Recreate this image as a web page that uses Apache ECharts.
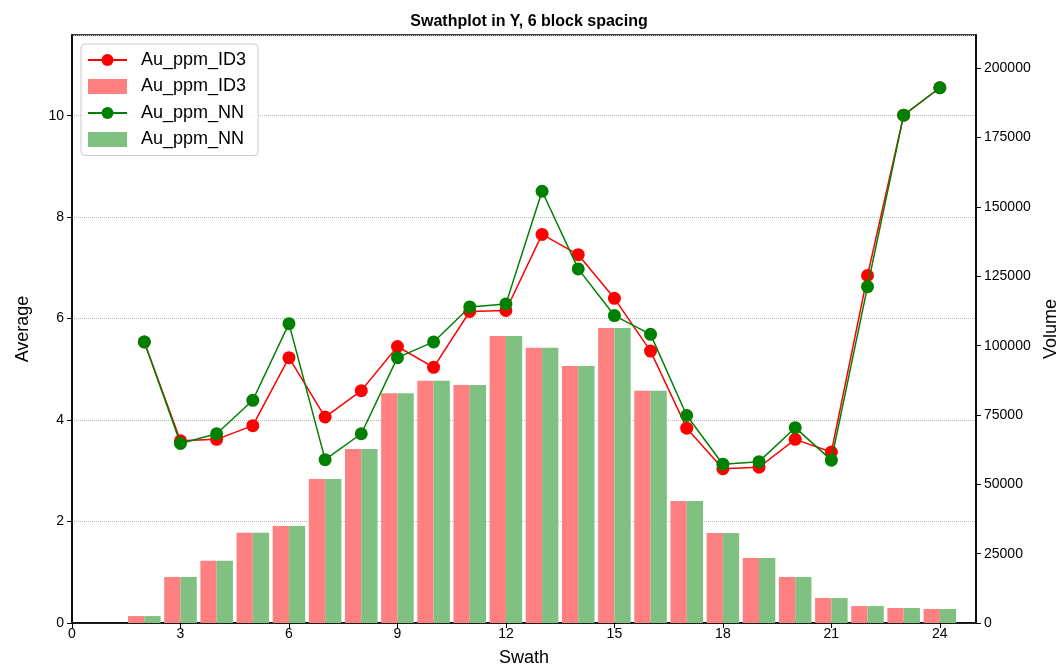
<!DOCTYPE html>
<html>
<head>
<meta charset="utf-8">
<title>Swathplot</title>
<script src="https://cdn.jsdelivr.net/npm/echarts@6/dist/echarts.min.js"></script>
<style>
  html, body { margin: 0; padding: 0; background: #fff; }
  #main { width: 1062px; height: 671px; }
</style>
</head>
<body>
<div id="main"></div>
<script>
// swath numbers on the x axis
var swath = [2, 3, 4, 5, 6, 7, 8, 9, 10, 11, 12, 13, 14, 15, 16, 17, 18, 19, 20, 21, 22, 23, 24];
// average grade per swath
var id3Avg = [5.54, 3.59, 3.62, 3.89, 5.23, 4.06, 4.58, 5.45, 5.04, 6.14, 6.16, 7.66, 7.26, 6.40, 5.36, 3.84, 3.04, 3.07, 3.62, 3.37, 6.85, 10.01, 10.55];
var nnAvg = [5.54, 3.54, 3.73, 4.39, 5.90, 3.22, 3.73, 5.23, 5.54, 6.23, 6.29, 8.51, 6.98, 6.06, 5.69, 4.09, 3.13, 3.18, 3.85, 3.21, 6.63, 10.01, 10.55];
// volume per swath (same for both estimates)
var id3Vol = [2500, 16600, 22400, 32500, 35000, 51900, 62700, 82800, 87300, 85800, 103500, 99200, 92700, 106400, 83700, 44000, 32450, 23400, 16600, 9000, 6100, 5400, 5050];
var nnVol = [2500, 16600, 22400, 32500, 35000, 51900, 62700, 82800, 87300, 85800, 103500, 99200, 92700, 106400, 83700, 44000, 32450, 23400, 16600, 9000, 6100, 5400, 5050];
var leftTicks = [0, 2, 4, 6, 8, 10];
var rightTicks = [0, 25000, 50000, 75000, 100000, 125000, 150000, 175000, 200000];

function pairs(xs, ys) {
  return xs.map(function (x, i) { return [x, ys[i]]; });
}

var FONT = '"Liberation Sans", Arial, sans-serif';
// bars need another name than the lines or the legend merges them
var ZW = '\u200b';

var myChart = echarts.init(document.getElementById('main'));

myChart.setOption({
  backgroundColor: '#fff',
  animation: false,
  textStyle: { fontFamily: FONT },
  title: {
    text: 'Swathplot in Y, 6 block spacing',
    left: 524,
    top: 9,
    textAlign: 'center',
    textStyle: { fontSize: 16, fontWeight: 'bold', color: '#000', fontFamily: FONT }
  },
  grid: {
    left: 72, right: 86, top: 35, bottom: 48,
    containLabel: false,
    outerBoundsMode: 'none',
    show: true,
    borderColor: '#000',
    borderWidth: 1.5,
    backgroundColor: 'transparent'
  },
  legend: {
    orient: 'vertical',
    left: 81,
    top: 44,
    padding: [7, 12, 7, 6],
    itemGap: 8.5,
    itemWidth: 39,
    itemHeight: 15,
    backgroundColor: 'rgba(255,255,255,0.8)',
    borderColor: '#cccccc',
    borderWidth: 1,
    borderRadius: 4,
    formatter: function (name) { return name.replace(ZW, ''); },
    textStyle: { fontSize: 18, color: '#000', fontFamily: FONT, padding: [0, 0, 0, 9] },
    data: [
      { name: 'Au_ppm_ID3' },
      { name: 'Au_ppm_ID3' + ZW, icon: 'rect' },
      { name: 'Au_ppm_NN' },
      { name: 'Au_ppm_NN' + ZW, icon: 'rect' }
    ]
  },
  xAxis: {
    type: 'value',
    min: 0,
    max: 25,
    interval: 3,
    name: 'Swath',
    nameLocation: 'middle',
    nameGap: 26,
    nameTextStyle: { fontSize: 18, color: '#000' },
    axisLine: { lineStyle: { color: '#000', width: 1.5 } },
    axisTick: { length: 5, lineStyle: { color: '#000' } },
    axisLabel: { fontSize: 14, color: '#000', margin: 4, showMaxLabel: false },
    splitLine: { show: false }
  },
  yAxis: [
    {
      type: 'value',
      min: leftTicks[0],
      max: 11.59,
      interval: leftTicks[1] - leftTicks[0],
      name: 'Average',
      nameLocation: 'middle',
      nameGap: 40,
      nameTextStyle: { fontSize: 18, color: '#000' },
      axisLine: { show: true, lineStyle: { color: '#000', width: 1.5 } },
      axisTick: { show: true, length: 5, lineStyle: { color: '#000' } },
      axisLabel: { fontSize: 14, color: '#000', margin: 8, showMaxLabel: false },
      splitLine: { show: true, lineStyle: { color: '#b8b8b8', type: 'dotted', width: 1 } }
    },
    {
      type: 'value',
      position: 'right',
      min: rightTicks[0],
      max: 212000,
      interval: rightTicks[1] - rightTicks[0],
      name: 'Volume',
      nameLocation: 'middle',
      nameGap: 63,
      nameRotate: 90,
      nameTextStyle: { fontSize: 18, color: '#000' },
      axisLine: { show: true, lineStyle: { color: '#000', width: 1.5 } },
      axisTick: { show: true, length: 5, lineStyle: { color: '#000' } },
      axisLabel: {
        fontSize: 14, color: '#000', margin: 8, showMaxLabel: false,
        formatter: function (v) { return String(v); }
      },
      splitLine: { show: false }
    }
  ],
  series: [
    {
      name: 'Au_ppm_ID3' + ZW,
      type: 'bar',
      yAxisIndex: 1,
      barWidth: '45%',
      barGap: '0%',
      itemStyle: { color: '#ff8080' },
      z: 1,
      data: pairs(swath, id3Vol)
    },
    {
      name: 'Au_ppm_NN' + ZW,
      type: 'bar',
      yAxisIndex: 1,
      barWidth: '45%',
      barGap: '0%',
      itemStyle: { color: '#80c080' },
      z: 1,
      data: pairs(swath, nnVol)
    },
    {
      name: 'Au_ppm_ID3',
      type: 'line',
      yAxisIndex: 0,
      symbol: 'circle',
      symbolSize: 13,
      lineStyle: { color: '#ff0000', width: 1.5 },
      itemStyle: { color: '#ff0000' },
      z: 3,
      data: pairs(swath, id3Avg)
    },
    {
      name: 'Au_ppm_NN',
      type: 'line',
      yAxisIndex: 0,
      symbol: 'circle',
      symbolSize: 13,
      lineStyle: { color: '#008000', width: 1.5 },
      itemStyle: { color: '#008000' },
      z: 4,
      data: pairs(swath, nnAvg)
    }
  ]
});
</script>
</body>
</html>
